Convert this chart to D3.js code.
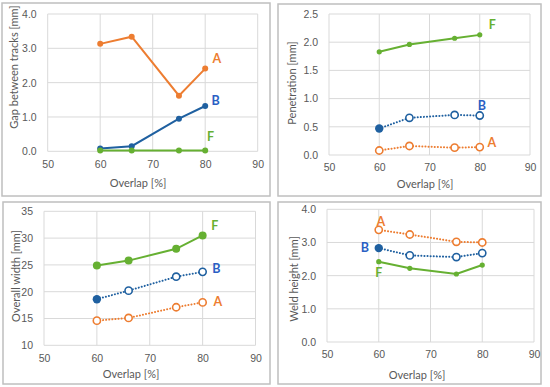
<html>
<head>
<meta charset="utf-8">
<title>Overlap charts</title>
<script src="https://cdnjs.cloudflare.com/ajax/libs/d3/7.8.5/d3.min.js"></script>
<style>
  body { margin: 0; background: #fff; }
  svg { font-family: Lato, "Open Sans", sans-serif; }
  .tick text { fill: #595959; font-size: 10.5px; }
  .title { fill: #595959; font-size: 11px; }
  .tag { font-size: 12.5px; font-weight: bold; }
</style>
</head>
<body>
<script>
// overlap values, shared by all four charts
var overlap = [60, 66, 75, 80];

// gap between tracks [mm]
var gapA = [3.13, 3.34, 1.62, 2.41];
var gapB = [0.08, 0.15, 0.95, 1.32];
var gapF = [0.02, 0.02, 0.02, 0.02];

// penetration [mm]
var penA = [0.08, 0.16, 0.13, 0.14];
var penB = [0.47, 0.66, 0.71, 0.70];
var penF = [1.83, 1.96, 2.07, 2.13];

// overall width [mm]
var widA = [14.6, 15.1, 17.1, 18.0];
var widB = [18.6, 20.2, 22.8, 23.7];
var widF = [24.9, 25.8, 28.0, 30.5];

// weld height [mm]
var hgtA = [3.38, 3.24, 3.02, 3.00];
var hgtB = [2.83, 2.61, 2.56, 2.68];
var hgtF = [2.42, 2.22, 2.05, 2.32];

var xTicks = [50, 60, 70, 80, 90];

var colors = { A: "#ED7D31", B: "#1F60A0", F: "#66B032" };
var tagColors = { A: "#ED7D31", B: "#2A5FC4", F: "#66B032" };

var width = 550, height = 387;
var svg = d3.select("body").append("svg")
    .attr("width", width)
    .attr("height", height);

var panels = [
    { box: [2, 3, 268, 193], px: [47.7, 257.7], py: [151.3, 14],
      yDomain: [0, 4], yTicks: [0, 1, 2, 3, 4], fmt: d3.format(".1f"),
      yTitle: "Gap between tracks [mm]", yTitlePos: [13, 67], xTitlePos: [138, 182],
      series: [
        { key: "A", values: gapA, dotted: false, r: 3, hollow: false, tag: [82.2, 2.69] },
        { key: "B", values: gapB, dotted: false, r: 3, hollow: false, tag: [82.0, 1.47] },
        { key: "F", values: gapF, dotted: false, r: 3, hollow: false, tag: [81.0, 0.43] }
      ] },
    { box: [278, 4, 263, 192], px: [329, 530], py: [155, 14],
      yDomain: [0, 2.5], yTicks: [0, 0.5, 1, 1.5, 2, 2.5], fmt: d3.format(".1f"),
      yTitle: "Penetration [mm]", yTitlePos: [291, 83], xTitlePos: [425, 183],
      series: [
        { key: "F", values: penF, dotted: false, r: 2.6, hollow: false, tag: [82.5, 2.32] },
        { key: "B", values: penB, dotted: true, r: 3.6, hollow: true, tag: [80.4, 0.88] },
        { key: "A", values: penA, dotted: true, r: 3.6, hollow: true, tag: [82.4, 0.225] }
      ] },
    { box: [3, 202, 267, 182], px: [44, 255.5], py: [345.3, 211.3],
      yDomain: [10, 35], yTicks: [10, 15, 20, 25, 30, 35], fmt: d3.format("d"),
      yTitle: "Overall width [mm]", yTitlePos: [15, 276], xTitlePos: [131, 373],
      series: [
        { key: "F", values: widF, dotted: false, r: 4, hollow: false, tag: [82.3, 32.4] },
        { key: "B", values: widB, dotted: true, r: 3.6, hollow: true, tag: [82.6, 24.4] },
        { key: "A", values: widA, dotted: true, r: 3.6, hollow: true, tag: [82.9, 18.1] }
      ] },
    { box: [278, 202, 263, 182], px: [327, 534], py: [342, 209.3],
      yDomain: [0, 4], yTicks: [0, 1, 2, 3, 4], fmt: d3.format(".1f"),
      yTitle: "Weld height [mm]", yTitlePos: [293, 279], xTitlePos: [417, 374],
      series: [
        { key: "A", values: hgtA, dotted: true, r: 3.6, hollow: true, tag: [60.4, 3.64] },
        { key: "B", values: hgtB, dotted: true, r: 3.6, hollow: true, tag: [57.3, 2.85] },
        { key: "F", values: hgtF, dotted: false, r: 2.6, hollow: false, tag: [60.0, 2.09] }
      ] }
];

panels.forEach(function(p, pi) {
    var g = svg.append("g");

    g.append("rect")
        .attr("x", p.box[0]).attr("y", p.box[1])
        .attr("width", p.box[2]).attr("height", p.box[3])
        .attr("fill", "#fff")
        .attr("stroke", "#bfbfbf")
        .attr("stroke-width", 1.5);

    var x = d3.scaleLinear().domain([50, 90]).range(p.px);
    var y = d3.scaleLinear().domain(p.yDomain).range(p.py);

    // grid
    g.append("g").selectAll("line.v")
        .data(xTicks).enter().append("line")
        .attr("x1", function(d) { return x(d); })
        .attr("x2", function(d) { return x(d); })
        .attr("y1", p.py[0]).attr("y2", p.py[1])
        .attr("stroke", "#d9d9d9");
    g.append("g").selectAll("line.h")
        .data(p.yTicks).enter().append("line")
        .attr("x1", p.px[0]).attr("x2", p.px[1])
        .attr("y1", function(d) { return y(d); })
        .attr("y2", function(d) { return y(d); })
        .attr("stroke", "#d9d9d9");

    // axes (labels only, lines come from the grid)
    var xAxis = g.append("g")
        .attr("transform", "translate(0," + p.py[0] + ")")
        .call(d3.axisBottom(x).tickValues(xTicks).tickSize(0).tickPadding(9));
    var yAxis = g.append("g")
        .attr("transform", "translate(" + p.px[0] + ",0)")
        .call(d3.axisLeft(y).tickValues(p.yTicks).tickFormat(p.fmt).tickSize(0).tickPadding(11));
    xAxis.select(".domain").remove();
    yAxis.select(".domain").remove();
    xAxis.selectAll("text").attr("font-family", null).attr("font-size", null);
    yAxis.selectAll("text").attr("font-family", null).attr("font-size", null);

    g.append("text")
        .attr("class", "title")
        .attr("text-anchor", "middle")
        .attr("dominant-baseline", "central")
        .attr("transform", "translate(" + p.yTitlePos[0] + "," + p.yTitlePos[1] + ") rotate(-90)")
        .text(p.yTitle);
    g.append("text")
        .attr("class", "title")
        .attr("text-anchor", "middle")
        .attr("dominant-baseline", "central")
        .attr("x", p.xTitlePos[0]).attr("y", p.xTitlePos[1])
        .text("Overlap [%]");

    var line = d3.line()
        .x(function(d, i) { return x(overlap[i]); })
        .y(function(d) { return y(d); });

    p.series.forEach(function(s) {
        var c = colors[s.key];
        g.append("path")
            .attr("d", line(s.values))
            .attr("fill", "none")
            .attr("stroke", c)
            .attr("stroke-width", 2)
            .attr("stroke-linecap", s.dotted ? "round" : "butt")
            .attr("stroke-dasharray", s.dotted ? "0.1,3" : null);

        g.append("g").selectAll("circle")
            .data(s.values).enter().append("circle")
            .attr("cx", function(d, i) { return x(overlap[i]); })
            .attr("cy", function(d) { return y(d); })
            .attr("r", function(d, i) {
                // series B starts with a solid marker in the dotted charts
                return (s.hollow && s.key === "B" && i === 0) ? 4.2 : s.r;
            })
            .attr("fill", function(d, i) {
                return (s.hollow && !(s.key === "B" && i === 0)) ? "#fff" : c;
            })
            .attr("stroke", c)
            .attr("stroke-width", function(d, i) {
                return (s.hollow && !(s.key === "B" && i === 0)) ? 1.6 : 0;
            });

        g.append("text")
            .attr("class", "tag")
            .attr("text-anchor", "middle")
            .attr("dominant-baseline", "central")
            .attr("x", x(s.tag[0]))
            .attr("y", y(s.tag[1]))
            .attr("fill", tagColors[s.key])
            .text(s.key);
    });
});
</script>
</body>
</html>
